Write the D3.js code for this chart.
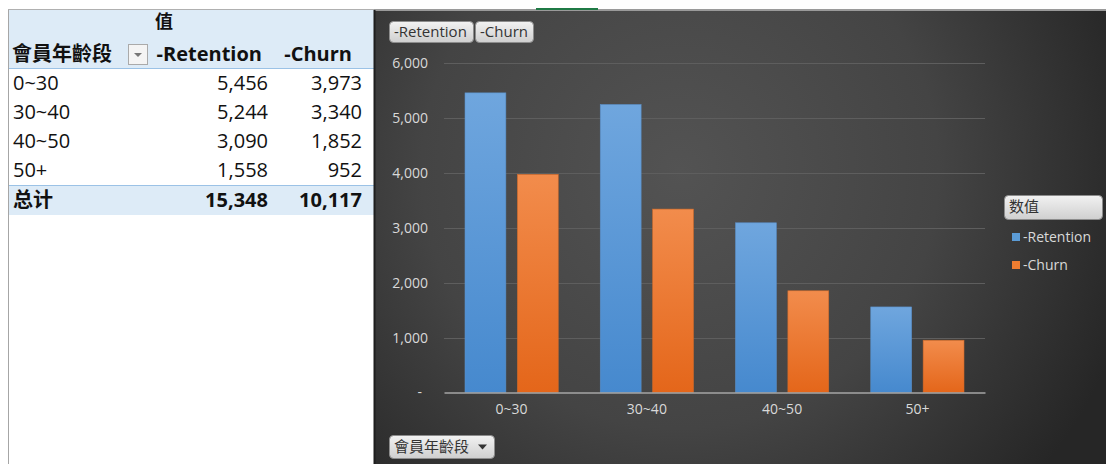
<!DOCTYPE html>
<html><head><meta charset="utf-8">
<script src="https://cdn.jsdelivr.net/npm/d3@7"></script>
<style>
html,body{margin:0;padding:0;background:#fff;}
svg{display:block;}
</style></head>
<body>
<svg id="c" width="1106" height="464"></svg>
<script>
const categories = ["0~30", "30~40", "40~50", "50+"];
const seriesNames = ["-Retention", "-Churn"];
const retention = [5456, 5244, 3090, 1558];
const churn = [3973, 3340, 1852, 952];
const totals = [15348, 10117];
const yTicks = [0, 1000, 2000, 3000, 4000, 5000, 6000];
const rowHeader = "會員年齡段";
const valueHeader = "值";
const totalLabel = "总计";
const legendTitle = "数值";

const svg = d3.select("#c");
const font = "'Open Sans','Noto Sans CJK SC','Noto Sans',sans-serif";
const fmt = d3.format(",");

// ---------- pivot table ----------
const T = svg.append("g");
T.append("rect").attr("x",8).attr("y",9).attr("width",367).attr("height",455).attr("fill","#fff");
T.append("rect").attr("x",9).attr("y",10).attr("width",366).attr("height",58).attr("fill","#DDEBF7");
T.append("rect").attr("x",9).attr("y",185).attr("width",366).attr("height",30).attr("fill","#DDEBF7");
T.append("line").attr("x1",9).attr("x2",375).attr("y1",68.5).attr("y2",68.5).attr("stroke","#9BC2E6");
T.append("line").attr("x1",9).attr("x2",375).attr("y1",185.5).attr("y2",185.5).attr("stroke","#9BC2E6");
T.append("line").attr("x1",8.5).attr("x2",8.5).attr("y1",9).attr("y2",464).attr("stroke","#a6a6a6");
T.append("line").attr("x1",8).attr("x2",375).attr("y1",9.5).attr("y2",9.5).attr("stroke","#b0b0b0");

T.append("text").attr("x",164).attr("y",22).attr("dy","0.35em").attr("text-anchor","middle")
  .attr("font-family",font).attr("font-weight","bold").attr("font-size",18).attr("fill","#111").text(valueHeader);
T.append("text").attr("x",12).attr("y",54).attr("dy","0.35em")
  .attr("font-family",font).attr("font-weight","bold").attr("font-size",20).attr("fill","#111").text(rowHeader);
// filter dropdown
T.append("rect").attr("x",128.5).attr("y",44.5).attr("width",19).attr("height",20).attr("fill","#f4f4f4").attr("stroke","#aaa");
T.append("path").attr("d","M134,53 L142,53 L138,57 Z").attr("fill","#777");
const colX = [268, 362];
const headEnd = [262, 352];
seriesNames.forEach((s,i)=>{
  T.append("text").attr("x",headEnd[i]).attr("y",54).attr("dy","0.35em").attr("text-anchor","end")
    .attr("font-family",font).attr("font-weight","bold").attr("font-size",20).attr("fill","#111").text(s);
});
const rowY = [83,112,141,170];
categories.forEach((c,i)=>{
  T.append("text").attr("x",13).attr("y",rowY[i]).attr("dy","0.35em")
    .attr("font-family",font).attr("font-size",20).attr("fill","#111").text(c);
  [retention[i], churn[i]].forEach((v,j)=>{
    T.append("text").attr("x",colX[j]).attr("y",rowY[i]).attr("dy","0.35em").attr("text-anchor","end")
      .attr("font-family",font).attr("font-size",20).attr("fill","#111").text(fmt(v));
  });
});
T.append("text").attr("x",13).attr("y",200).attr("dy","0.35em")
  .attr("font-family",font).attr("font-weight","bold").attr("font-size",20).attr("fill","#111").text(totalLabel);
totals.forEach((v,j)=>{
  T.append("text").attr("x",colX[j]).attr("y",200).attr("dy","0.35em").attr("text-anchor","end")
    .attr("font-family",font).attr("font-weight","bold").attr("font-size",20).attr("fill","#111").text(fmt(v));
});

// ---------- chart ----------
const defs = svg.append("defs");
const bg = defs.append("radialGradient").attr("id","bg").attr("gradientUnits","userSpaceOnUse")
  .attr("cx",680).attr("cy",170).attr("r",470);
bg.append("stop").attr("offset","0%").attr("stop-color","#535353");
bg.append("stop").attr("offset","55%").attr("stop-color","#444");
bg.append("stop").attr("offset","100%").attr("stop-color","#262626");
const gB = defs.append("linearGradient").attr("id","gB").attr("x1",0).attr("y1",0).attr("x2",0).attr("y2",1);
gB.append("stop").attr("offset","0%").attr("stop-color","#6FA6DE");
gB.append("stop").attr("offset","100%").attr("stop-color","#4689CE");
const gO = defs.append("linearGradient").attr("id","gO").attr("x1",0).attr("y1",0).attr("x2",0).attr("y2",1);
gO.append("stop").attr("offset","0%").attr("stop-color","#F28C4C");
gO.append("stop").attr("offset","100%").attr("stop-color","#E4661A");
const gBtn = defs.append("linearGradient").attr("id","gBtn").attr("x1",0).attr("y1",0).attr("x2",0).attr("y2",1);
gBtn.append("stop").attr("offset","0%").attr("stop-color","#f2f2f2");
gBtn.append("stop").attr("offset","100%").attr("stop-color","#cfcfcf");

svg.append("rect").attr("x",374).attr("y",10).attr("width",732).attr("height",454).attr("fill","url(#bg)");
svg.append("line").attr("x1",374).attr("x2",1106).attr("y1",10).attr("y2",10).attr("stroke","#9a9a9a").attr("stroke-width",2);
svg.append("line").attr("x1",374.5).attr("x2",374.5).attr("y1",10).attr("y2",464).attr("stroke","#1e1e1e").attr("stroke-width",2);
svg.append("rect").attr("x",536).attr("y",8).attr("width",62).attr("height",2).attr("fill","#1f7a45");

const x0 = d3.scaleBand().domain(categories).range([444,985]).paddingInner(0).paddingOuter(0);
const x1 = d3.scaleBand().domain(seriesNames).range([21, x0.bandwidth()-21]).paddingInner(0.22);
const y = d3.scaleLinear().domain([0,6000]).range([392.5,63]);

const grid = svg.append("g");
grid.selectAll("line").data(yTicks.filter(t=>t>0)).join("line")
  .attr("x1",444).attr("x2",985).attr("y1",d=>Math.round(y(d))+0.5).attr("y2",d=>Math.round(y(d))+0.5)
  .attr("stroke","#5e5e5e").attr("stroke-width",1);

const yAxis = svg.append("g").attr("transform","translate(428,0)")
  .call(d3.axisLeft(y).tickValues(yTicks).tickSize(0).tickPadding(0).tickFormat(d=>d===0?"-":fmt(d)));
yAxis.select(".domain").remove();
yAxis.selectAll("text").attr("font-family",font).attr("font-size",14).attr("fill","#d9d9d9")
  .attr("dx",d=>d===0?-6:0);

const colors = ["url(#gB)","url(#gO)"];
const edge = ["#5a8fc8","#cf6a2a"];
const bars = svg.append("g");
categories.forEach((c,i)=>{
  const vals = [retention[i], churn[i]];
  bars.selectAll(null).data(vals).enter().append("rect")
    .attr("x",(d,j)=>x0(c)+x1(seriesNames[j]))
    .attr("y",d=>y(d))
    .attr("width",x1.bandwidth())
    .attr("height",d=>y(0)-y(d))
    .attr("fill",(d,j)=>colors[j])
    .attr("stroke",(d,j)=>edge[j]).attr("stroke-width",0.6);
});

const xAxis = svg.append("g").attr("transform","translate(0,392.5)")
  .call(d3.axisBottom(x0).tickSize(0).tickPadding(12));
xAxis.select(".domain").attr("stroke","#a6a6a6").attr("stroke-width",1.3);
xAxis.selectAll("text").attr("font-family",font).attr("font-size",14).attr("fill","#d9d9d9");

// buttons
function button(x,yy,w,h,label,arrow){
  const g = svg.append("g");
  g.append("rect").attr("x",x+0.5).attr("y",yy+0.5).attr("width",w).attr("height",h).attr("rx",4)
    .attr("fill","url(#gBtn)").attr("stroke","#8c8c8c");
  g.append("text").attr("x",x+5).attr("y",yy+h/2).attr("dy","0.35em")
    .attr("font-family",font).attr("font-size",15).attr("fill","#333").text(label);
  if(arrow){
    g.append("path").attr("d",`M${x+w-16},${yy+h/2-2} L${x+w-7},${yy+h/2-2} L${x+w-11.5},${yy+h/2+3} Z`).attr("fill","#333");
  }
}
button(389,21,84,21,seriesNames[0],false);
button(475,21,58,21,seriesNames[1],false);
button(389,435,105,23,rowHeader,true);
button(1004,195,98,24,legendTitle,false);

const lg = svg.append("g");
const legendFills = ["#5B9BD5","#ED7D31"];
seriesNames.forEach((s,i)=>{
  const yy = 237 + i*28;
  lg.append("rect").attr("x",1012).attr("y",yy-4).attr("width",8).attr("height",8).attr("fill",legendFills[i]);
  lg.append("text").attr("x",1023).attr("y",yy).attr("dy","0.35em")
    .attr("font-family",font).attr("font-size",14).attr("fill","#d9d9d9").text(s);
});
</script>
</body></html>
